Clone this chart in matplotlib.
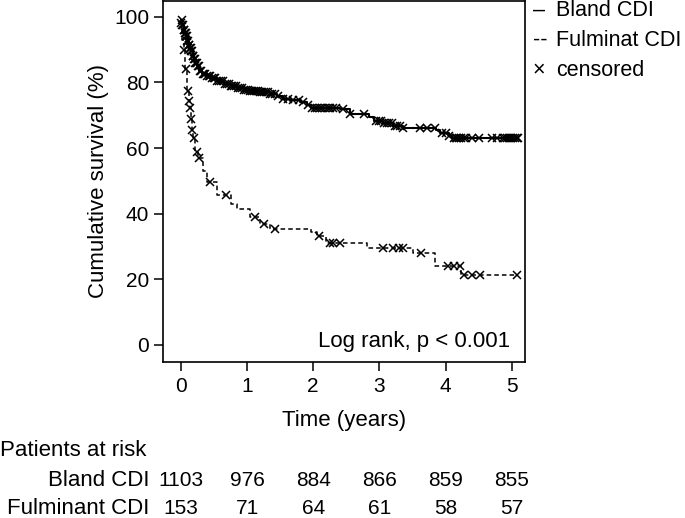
import numpy as np
import matplotlib
matplotlib.use("Agg")
import matplotlib.pyplot as plt
import matplotlib.transforms as mtransforms

plt.rcParams['font.family'] = ['Liberation Sans', 'DejaVu Sans']

# Kaplan-Meier step data (time in years, survival in %)
bland_t = [0, 0.02, 0.04, 0.06, 0.08, 0.10, 0.12, 0.14, 0.16, 0.18, 0.20, 0.22,
           0.25, 0.28, 0.32, 0.38, 0.45, 0.55, 0.65, 0.75, 0.85, 0.95, 1.05, 1.20,
           1.35, 1.45, 1.55, 1.65, 1.80, 1.90, 1.97, 2.40, 2.55, 2.85, 2.92, 3.05,
           3.20, 3.35, 3.85, 3.92, 4.05, 4.10]
bland_s = [99, 97.5, 96, 95, 94, 92.5, 91.5, 90.5, 89.5, 88, 87, 86,
           85, 83.5, 82.5, 82, 81.2, 80.5, 79.5, 79, 78.3, 77.8, 77.3, 77,
           76.5, 76, 75, 74.5, 74, 73, 72.3, 71.8, 70.3, 69.5, 68.3, 67.5,
           66.8, 66.2, 65.5, 64.6, 63.8, 63.1]
bland_cens = [0.01, 0.02, 0.03, 0.04, 0.05, 0.06, 0.07, 0.08, 0.09, 0.10, 0.11, 0.12,
              0.13, 0.14, 0.15, 0.16, 0.17, 0.18, 0.19, 0.20, 0.21, 0.22, 0.23, 0.24,
              0.26, 0.27, 0.29, 0.30, 0.33, 0.35, 0.37, 0.40, 0.42, 0.44, 0.47, 0.50,
              0.52, 0.55, 0.58, 0.60, 0.63, 0.66, 0.69, 0.72, 0.75, 0.78, 0.81, 0.84,
              0.87, 0.90, 0.93, 0.96, 0.99, 1.02, 1.05, 1.08, 1.11, 1.14, 1.17, 1.20,
              1.23, 1.26, 1.29, 1.32, 1.35, 1.38, 1.42, 1.47, 1.55, 1.62, 1.70, 1.78,
              1.85, 1.92, 1.98, 2.02, 2.06, 2.10, 2.14, 2.18, 2.22, 2.26, 2.30, 2.34,
              2.45, 2.56, 2.76, 2.95, 2.99, 3.03, 3.07, 3.11, 3.15, 3.19, 3.23, 3.27,
              3.31, 3.35, 3.61, 3.72, 3.84, 3.95, 4.00, 4.05, 4.12, 4.15, 4.18, 4.21,
              4.24, 4.28, 4.31, 4.40, 4.50, 4.70, 4.77, 4.87, 4.90, 4.93, 4.96, 4.99,
              5.02, 5.05, 5.08, 5.10]

fulm_t = [0, 0.01, 0.04, 0.06, 0.10, 0.12, 0.135, 0.15, 0.165, 0.19, 0.22, 0.26,
          0.33, 0.40, 0.54, 0.75, 0.85, 1.05, 1.20, 1.35, 1.97, 2.05, 2.20, 2.81,
          3.51, 3.84, 4.24]
fulm_s = [98, 93, 90, 84, 77.3, 74.3, 72.2, 68.7, 65.6, 63, 58.8, 56.9,
          53, 49.6, 45.6, 43, 41.5, 39, 37, 35.4, 34.4, 33.1, 31.2, 29.5,
          28.1, 24.2, 21.2]
fulm_cens = [0.005, 0.05, 0.07, 0.11, 0.13, 0.14, 0.16, 0.17, 0.20, 0.24, 0.28, 0.44,
             0.68, 1.12, 1.25, 1.42, 2.09, 2.26, 2.30, 2.41, 3.06, 3.21, 3.29, 3.36,
             3.63, 4.04, 4.12, 4.22, 4.28, 4.40, 4.52, 5.08]
end_time = 5.10

risk_times = [0, 1, 2, 3, 4, 5]
bland_risk = [1103, 976, 884, 866, 859, 855]
fulm_risk = [153, 71, 64, 61, 58, 57]

FS = 16      # words
FS_NUM = 15  # numbers
FS_LEG = 15.5
W, H = 685, 518


def surv_at(times, surv, t):
    idx = np.searchsorted(times, t, side='right') - 1
    return np.asarray(surv)[idx]


fig = plt.figure(figsize=(W / 100, H / 100), dpi=100)
ax = fig.add_axes([163 / W, 1 - 362 / H, 362 / W, 361 / H])

# curves
ax.step(bland_t + [end_time], bland_s + [bland_s[-1]], where='post',
        color='black', lw=1.5, ls='-')
ax.step(fulm_t + [end_time], fulm_s + [fulm_s[-1]], where='post',
        color='black', lw=1.1, ls=(0, (3, 2)))

ax.plot(bland_cens, surv_at(bland_t, bland_s, bland_cens), ls='none',
        marker='x', ms=6, mew=1.1, color='black')
ax.plot(fulm_cens, surv_at(fulm_t, fulm_s, fulm_cens), ls='none',
        marker='x', ms=6, mew=1.1, color='black')

ax.set_xlim(-0.27, 5.2)
ax.set_ylim(-5.2, 104.8)
ax.set_xticks(risk_times)
ax.set_yticks([0, 20, 40, 60, 80, 100])
ax.tick_params(direction='out', length=6.5, width=1.1, labelsize=FS_NUM)
ax.tick_params(axis='x', pad=4.5)
ax.tick_params(axis='y', pad=3.5)
for sp in ax.spines.values():
    sp.set_linewidth(1.2)

ax.set_ylabel('Cumulative survival (%)', fontsize=FS)
ax.yaxis.set_label_coords(-0.148, 0.5)
ax.set_xlabel('Time (years)', fontsize=FS, va='top')
ax.xaxis.set_label_coords(0.5, -0.132)

ax.text(0.958, 0.058, 'Log rank, p < 0.001', transform=ax.transAxes,
        ha='right', va='center', fontsize=FS)

# legend (outside, top right)
leg_rows = [('\u2013', 'Bland CDI'), ('--', 'Fulminat CDI'), ('\u00d7', 'censored')]
for i, (sym, lab) in enumerate(leg_rows):
    yy = 1 - (10 + 30 * i) / H
    fig.text(533 / W, yy, sym, ha='left', va='center', fontsize=FS_LEG)
    fig.text(556 / W, yy, lab, ha='left', va='center', fontsize=FS_LEG)

# number at risk table
fig.text(0, 1 - 451 / H, 'Patients at risk', ha='left', va='center', fontsize=FS)
fig.text(149 / W, 1 - 480 / H, 'Bland CDI', ha='right', va='center', fontsize=FS)
fig.text(149 / W, 1 - 509 / H, 'Fulminant CDI', ha='right', va='center', fontsize=FS)
trans = mtransforms.blended_transform_factory(ax.transData, fig.transFigure)
for t, b, f in zip(risk_times, bland_risk, fulm_risk):
    ax.text(t, 1 - 480 / H, str(b), transform=trans, ha='center', va='center',
            fontsize=FS_NUM, clip_on=False)
    ax.text(t, 1 - 509 / H, str(f), transform=trans, ha='center', va='center',
            fontsize=FS_NUM, clip_on=False)

fig.savefig('out.png', dpi=100)
